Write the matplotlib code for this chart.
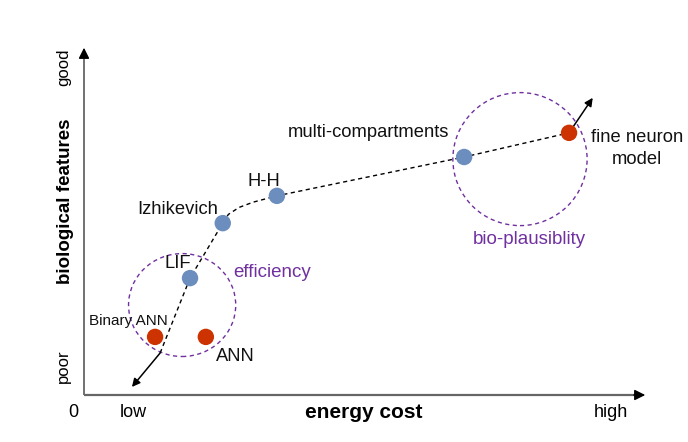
import numpy as np
import matplotlib
matplotlib.use("Agg")
import matplotlib.pyplot as plt
from matplotlib.patches import Ellipse

plt.rcParams['font.family'] = ['Liberation Sans', 'DejaVu Sans']

# neuron models: energy cost (x) vs biological features (y), 0..100 scale
names = ['Binary ANN', 'ANN', 'LIF', 'Izhikevich', 'H-H', 'multi-compartments', 'fine neuron\nmodel']
cost = [12.6, 21.6, 18.8, 24.6, 34.2, 67.4, 86.0]
bio = [16.6, 16.6, 33.4, 49.1, 56.9, 68.0, 74.9]
kind = ['ann', 'ann', 'snn', 'snn', 'snn', 'snn', 'ann']

# trend curve through the models
trend_x = [13.5, 18.8, 24.6, 25.6, 27.5, 30.0, 34.2, 67.4, 86.0]
trend_y = [12.0, 33.4, 49.1, 51.6, 53.6, 55.1, 56.9, 68.0, 74.9]
trend_lo = (8.5, 2.3)
trend_hi = (90.2, 84.9)

# grouping circles: centre x, centre y, width, height
groups = ['efficiency', 'bio-plausiblity']
grp_x = [17.4, 77.3]
grp_y = [25.7, 67.4]
grp_w = [19.0, 23.8]
grp_h = [29.4, 38.0]

colors = {'ann': '#CC3300', 'snn': '#6C8EBF'}
purple = '#7030A0'

fig = plt.figure(figsize=(6.88, 4.42), dpi=100)
ax = fig.add_axes([84 / 688, 47 / 442, 564 / 688, 350 / 442])
ax.set_xlim(0, 100)
ax.set_ylim(0, 100)
ax.axis('off')

# axes with arrows
ax.plot([0, 98], [0, 0], color='#666666', lw=1.6, clip_on=False, solid_capstyle='butt')
ax.plot([0, 0], [0, 97], color='#666666', lw=1.3, clip_on=False, solid_capstyle='butt')
ax.annotate('', xy=(100, 0), xytext=(97, 0),
			arrowprops=dict(arrowstyle='-|>', color='black', lw=1, mutation_scale=16), annotation_clip=False)
ax.annotate('', xy=(0, 100), xytext=(0, 96),
			arrowprops=dict(arrowstyle='-|>', color='black', lw=1, mutation_scale=16), annotation_clip=False)

# groups
for g, cx, cy, w, h in zip(groups, grp_x, grp_y, grp_w, grp_h):
	ax.add_patch(Ellipse((cx, cy), w, h, fill=False, ec=purple, lw=1, ls=(0, (3, 2.5)), zorder=2))
ax.text(26.4, 35.1, groups[0], color=purple, fontsize=13.5, ha='left', va='center')
ax.text(78.9, 44.3, groups[1], color=purple, fontsize=13.5, ha='center', va='center')

# trend
ax.plot(trend_x, trend_y, color='black', lw=1, ls=(0, (3, 2.5)), zorder=3)
ax.annotate('', xy=trend_lo, xytext=(trend_x[0], trend_y[0]),
			arrowprops=dict(arrowstyle='-|>', color='black', lw=1.1, mutation_scale=12, shrinkA=0, shrinkB=0))
ax.annotate('', xy=trend_hi, xytext=(trend_x[-1], trend_y[-1]),
			arrowprops=dict(arrowstyle='-|>', color='black', lw=1.1, mutation_scale=12, shrinkA=0, shrinkB=0))

# points
ax.scatter(cost, bio, s=140, c=[colors[k] for k in kind], edgecolors='none', zorder=4)

# point labels
lab_pos = [(7.9, 21.1), (26.8, 10.9), (16.6, 37.7), (16.6, 53.1), (31.9, 61.1), (50.4, 74.9), (98.0, 70.4)]
lab_size = [11, 13.2, 13.2, 13.2, 13.2, 13.2, 13.2]
for n, (tx, ty), fs in zip(names, lab_pos, lab_size):
	ax.text(tx, ty, n, fontsize=fs, ha='center', va='center', color='#111111',
			linespacing=1.35, zorder=5, clip_on=False)

# axis annotations
ax.text(-1.95, -5.1, '0', fontsize=13, ha='center', va='center', clip_on=False)
ax.text(8.7, -5.1, 'low', fontsize=13, ha='center', va='center', clip_on=False)
ax.text(93.4, -5.1, 'high', fontsize=13, ha='center', va='center', clip_on=False)
ax.text(49.6, -5.1, 'energy cost', fontsize=15, fontweight='bold', ha='center', va='center', clip_on=False)
ax.text(-3.3, 55.5, 'biological features', fontsize=13.5, fontweight='bold', rotation=90,
		ha='center', va='center', clip_on=False)
ax.text(-3.6, 93.7, 'good', fontsize=12, rotation=90, ha='center', va='center', clip_on=False)
ax.text(-3.6, 8.3, 'poor', fontsize=12, rotation=90, ha='center', va='center', clip_on=False)

fig.savefig('out.png', dpi=100)
